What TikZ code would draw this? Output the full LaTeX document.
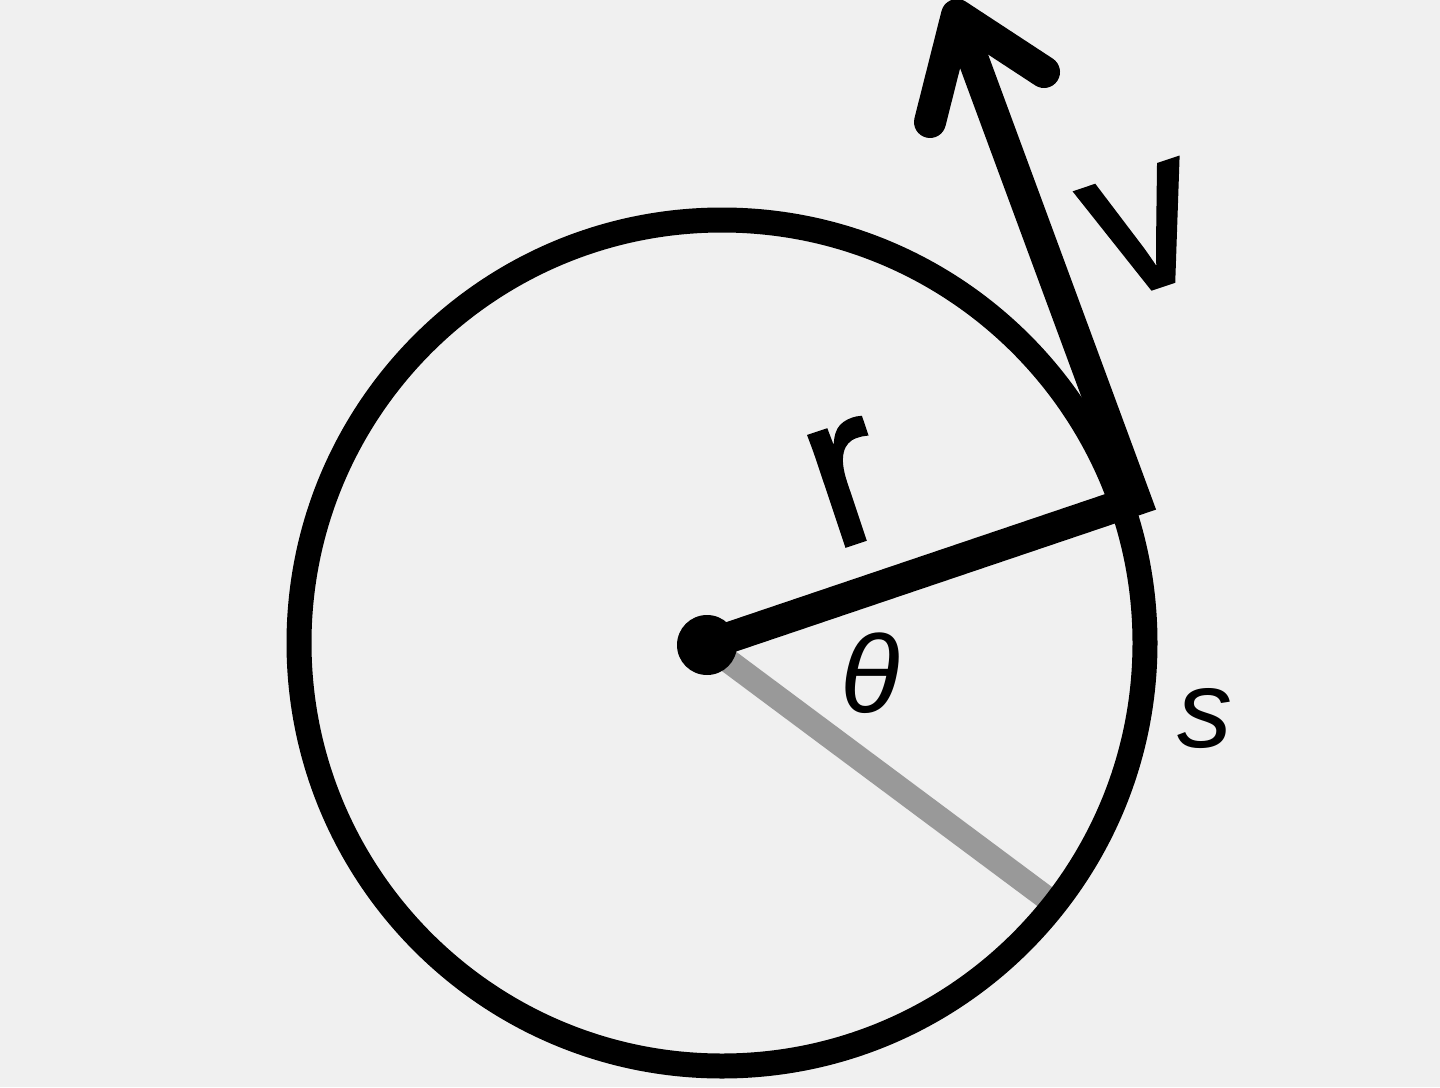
\documentclass[tikz,border=0pt]{standalone}
\usepackage{fontspec}
\setmainfont{Liberation Sans}
\newfontfamily\heavysans[FakeBold=1.4]{Liberation Sans}
\definecolor{bg}{HTML}{F0F0F0}
\definecolor{graylin}{HTML}{999999}
\begin{document}
\begin{tikzpicture}[x=1pt,y=-1pt,
  biglabel/.style={inner sep=0pt, font=\heavysans\fontsize{220}{220}\selectfont, rotate=18.5},
  smalllabel/.style={inner sep=0pt, font=\fontsize{110}{110}\selectfont\itshape}]
\useasboundingbox (0,0) rectangle (1440,1087);
\fill[bg] (0,0) rectangle (1440,1087);
\coordinate (O) at (707,645);
\coordinate (G) at (1048,899);
\coordinate (P) at (1136,500);
\coordinate (T) at (957,15);
\coordinate (AL) at (930,122);
\coordinate (AR) at (1044,72);
% gray reference radius
\draw[graylin, line width=24] (O) -- (G);
% circle
\node[circle, draw, line width=25, minimum size=846, inner sep=0pt] (circ) at (722,643) {};
% radius and velocity shaft
\draw[line width=31, line join=miter] (O) -- (P) -- (T);
% arrow head
\draw[line width=32, line cap=round, line join=round] (AL) -- (T) -- (AR);
% centre dot
\fill (O) circle (30);
% labels
\node[biglabel] (rlab) at (848,483) {r};
\node[biglabel] (vlab) at (1145,230) {v};
\node[smalllabel] (thlab) at (870,673) {θ};
\node[smalllabel] (slab) at (1205,719) {s};
\end{tikzpicture}
\end{document}
